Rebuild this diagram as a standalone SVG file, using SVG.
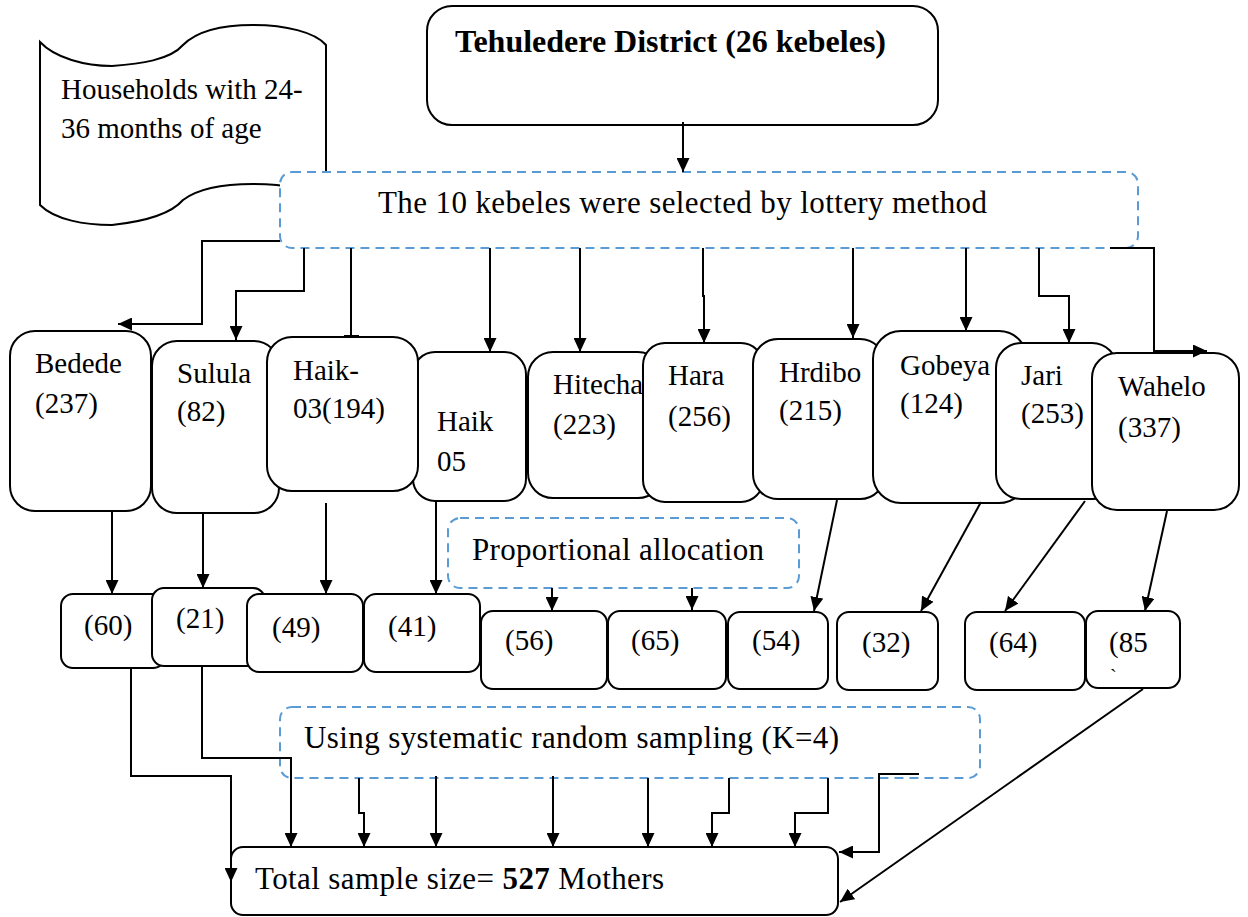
<svg xmlns="http://www.w3.org/2000/svg" width="1248" height="917" viewBox="0 0 1248 917" font-family="'Liberation Serif', 'DejaVu Serif', serif">
<style>
text{font-family:'Liberation Serif','DejaVu Serif',serif;fill:#000}
.big{font-size:31px}
.lbl{font-size:29px}
.box{fill:#fff;stroke:#000;stroke-width:2}
.dash{fill:#fff;stroke:#5B9BD5;stroke-width:2;stroke-dasharray:9 6}
.con path{fill:none;stroke:#000;stroke-width:2}
.con path.a{marker-end:url(#ah)}
</style>
<defs>
<marker id="ah" viewBox="0 0 14 13" refX="14" refY="6.5" markerWidth="14" markerHeight="13" markerUnits="userSpaceOnUse" orient="auto">
<path d="M0,0 L14,6.5 L0,13 Z" fill="#000"/>
</marker>
</defs>
<rect width="1248" height="917" fill="#fff"/>

<g id="households">
<path class="box" d="M40,42 C55,58 85,66 112,66 C140,64 170,60 183,45 C200,28 230,25 253,25 C285,25 315,32 326,45 L326,200 C315,190 285,184 253,184 C230,184 200,187 183,200 C170,215 140,222 112,225 C85,225 55,220 40,205 Z"/>
<text class="lbl" x="61" y="99">Households with 24-</text>
<text class="lbl" x="61" y="138">36 months of age</text>
</g>

<g id="district">
<rect class="box" x="427" y="6" width="511" height="119" rx="25"/>
<text x="455" y="52" font-size="32" font-weight="bold" textLength="431" lengthAdjust="spacingAndGlyphs">Tehuledere District (26 kebeles)</text>
</g>

<g id="lottery">
<rect class="dash" x="280" y="172" width="858" height="76" rx="12"/>
<text class="big" x="378" y="213" textLength="609" lengthAdjust="spacing">The 10 kebeles were selected by lottery method</text>
</g>

<g id="bedede"><rect class="box" x="10" y="331" width="141" height="180" rx="25"/><text class="lbl" x="35" y="373">Bedede</text><text class="lbl" x="35" y="413">(237)</text></g>
<g id="sulula"><rect class="box" x="152" y="341" width="127" height="172" rx="25"/><text class="lbl" x="177" y="383">Sulula</text><text class="lbl" x="177" y="421">(82)</text></g>
<g id="haik05"><rect class="box" x="413" y="352" width="113" height="149" rx="22"/><text class="lbl" x="437" y="431">Haik</text><text class="lbl" x="437" y="471">05</text></g>
<g id="haik03"><rect class="box" x="267" y="337" width="151" height="154" rx="25"/><text class="lbl" x="293" y="380">Haik-</text><text class="lbl" x="293" y="418">03(194)</text></g>
<g id="hitecha"><rect class="box" x="528" y="352" width="135" height="146" rx="25"/><text class="lbl" x="553" y="394">Hitecha</text><text class="lbl" x="553" y="434">(223)</text></g>
<g id="hara"><rect class="box" x="643" y="343" width="120" height="159" rx="22"/><text class="lbl" x="668" y="385">Hara</text><text class="lbl" x="668" y="426">(256)</text></g>
<g id="hrdibo"><rect class="box" x="753" y="339" width="132" height="160" rx="25"/><text class="lbl" x="779" y="382">Hrdibo</text><text class="lbl" x="779" y="420">(215)</text></g>
<g id="gobeya"><rect class="box" x="873" y="331" width="154" height="172" rx="28"/><text class="lbl" x="900" y="375">Gobeya</text><text class="lbl" x="900" y="413">(124)</text></g>
<g id="jari"><rect class="box" x="996" y="343" width="121" height="156" rx="25"/><text class="lbl" x="1021" y="385">Jari</text><text class="lbl" x="1021" y="423">(253)</text></g>
<g id="wahelo"><rect class="box" x="1092" y="353" width="147" height="157" rx="25"/><text class="lbl" x="1118" y="396">Wahelo</text><text class="lbl" x="1118" y="437">(337)</text></g>

<g id="proportional">
<rect class="dash" x="448" y="518" width="351" height="70" rx="12"/>
<text class="big" x="472" y="560" textLength="292" lengthAdjust="spacing">Proportional allocation</text>
</g>

<g id="n60"><rect class="box" x="61" y="594" width="104" height="74" rx="12"/><text class="lbl" x="84" y="635">(60)</text></g>
<g id="n21"><rect class="box" x="152" y="588" width="113" height="78" rx="12"/><text class="lbl" x="176" y="628">(21)</text></g>
<g id="n49"><rect class="box" x="247" y="594" width="116" height="78" rx="12"/><text class="lbl" x="272" y="637">(49)</text></g>
<g id="n41"><rect class="box" x="364" y="594" width="116" height="78" rx="12"/><text class="lbl" x="388" y="636">(41)</text></g>
<g id="n56"><rect class="box" x="481" y="611" width="126" height="78" rx="12"/><text class="lbl" x="505" y="650">(56)</text></g>
<g id="n65"><rect class="box" x="608" y="611" width="118" height="78" rx="12"/><text class="lbl" x="631" y="650">(65)</text></g>
<g id="n54"><rect class="box" x="728" y="612" width="100" height="77" rx="12"/><text class="lbl" x="752" y="650">(54)</text></g>
<g id="n32"><rect class="box" x="837" y="612" width="101" height="78" rx="12"/><text class="lbl" x="862" y="652">(32)</text></g>
<g id="n64"><rect class="box" x="965" y="612" width="120" height="78" rx="12"/><text class="lbl" x="989" y="652">(64)</text></g>
<g id="n85"><rect class="box" x="1086" y="611" width="94" height="77" rx="12"/><text class="lbl" x="1109" y="652">(85</text><text x="1110" y="684" font-size="20">`</text></g>

<g id="systematic">
<rect class="dash" x="280" y="707" width="700" height="71" rx="12"/>
<text class="big" x="304" y="748" textLength="535" lengthAdjust="spacing">Using systematic random sampling (K=4)</text>
</g>

<g id="total">
<rect class="box" x="231" y="847" width="607" height="68" rx="12"/>
<text class="big" x="255" y="889" textLength="409" lengthAdjust="spacing">Total sample size= <tspan font-weight="bold">527</tspan> Mothers</text>
</g>

<g id="connectors" class="con">
<path class="a" d="M683,122 V172"/>
<path class="a" d="M280,241 H202 V324 H118"/>
<path class="a" d="M304,248 V291 H236 V340"/>
<path d="M351,248 V336 M344,336 H359"/>
<path class="a" d="M490,248 V352"/>
<path class="a" d="M580,248 V352"/>
<path class="a" d="M703,248 V296 H704 V343"/>
<path class="a" d="M853,248 V338"/>
<path class="a" d="M966,248 V331"/>
<path class="a" d="M1039,248 V296 H1069 V343"/>
<path class="a" d="M1110,248 H1154 V351 H1207"/>

<path class="a" d="M112,511 V594"/>
<path class="a" d="M203,513 V588"/>
<path class="a" d="M326,503 V594"/>
<path class="a" d="M436,501 V594"/>
<path class="a" d="M552,588 V611"/>
<path class="a" d="M692,588 V610"/>
<path class="a" d="M837,500 L814,611"/>
<path class="a" d="M981,502 L921,611"/>
<path class="a" d="M1085,501 L1005,611"/>
<path class="a" d="M1167,511 L1145,611"/>

<path class="a" d="M131,668 V776 H231 V882"/>
<path class="a" d="M202,666 V758 H291 V847"/>
<path class="a" d="M359,778 V813 H364 V847"/>
<path class="a" d="M436,776 V847"/>
<path class="a" d="M553,776 V847"/>
<path class="a" d="M648,778 V847"/>
<path class="a" d="M729,778 V813 H712 V847"/>
<path class="a" d="M828,778 V813 H795 V847"/>
<path class="a" d="M919,774 H879 V852 H839"/>
<path class="a" d="M1143,689 L840,902"/>
</g>
</svg>
